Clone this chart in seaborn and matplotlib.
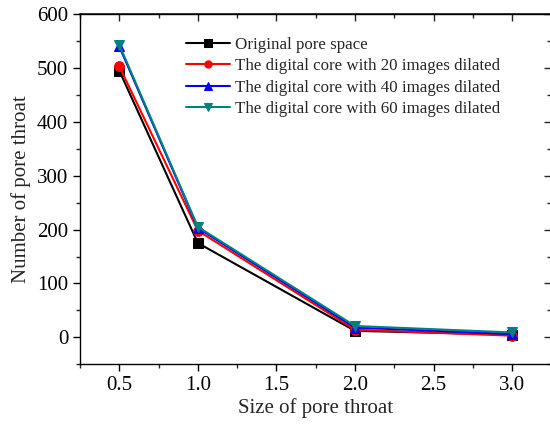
import pandas as pd
import seaborn as sns
import matplotlib.pyplot as plt
from matplotlib.ticker import MultipleLocator

# data
sizes = [0.5, 1.0, 2.0, 3.0]
original = [495, 175, 12, 5]
dilated_20 = [503, 198, 14, 3]
dilated_40 = [540, 203, 18, 6]
dilated_60 = [543, 205, 21, 9]

labels = [
    "Original pore space",
    "The digital core with 20 images dilated",
    "The digital core with 40 images dilated",
    "The digital core with 60 images dilated",
]
colors = ["black", "red", "blue", "#008080"]
markers = ["s", "o", "^", "v"]

sns.set_theme(style="ticks")
plt.rcParams["font.family"] = ["Liberation Serif", "DejaVu Serif"]

df = pd.DataFrame({
    "size": sizes * 4,
    "count": original + dilated_20 + dilated_40 + dilated_60,
    "series": [l for l in labels for _ in sizes],
})

fig = plt.figure(figsize=(5.5, 4.28), dpi=100)
ax = fig.add_axes([0.1455, 0.149, 0.857, 0.818])

for lab, col, mk in zip(labels, colors, markers):
    sub = df[df["series"] == lab]
    sns.lineplot(
        data=sub, x="size", y="count", ax=ax,
        color=col, marker=mk, markersize=7, linewidth=1.5,
        markeredgecolor=col, label=lab,
    )

ax.set_xlim(0.25, 3.25)
ax.set_ylim(-50, 600)
ax.set_xticks([0.5, 1.0, 1.5, 2.0, 2.5, 3.0])
ax.xaxis.set_minor_locator(MultipleLocator(0.25))
ax.yaxis.set_major_locator(MultipleLocator(100))
ax.yaxis.set_minor_locator(MultipleLocator(50))
ax.tick_params(which="major", direction="out", length=5, width=1, labelsize=15, colors="black")
ax.tick_params(which="minor", direction="out", length=3, width=1)

for s in ax.spines.values():
    s.set_visible(True)
    s.set_linewidth(1)
    s.set_color("black")

top = ax.secondary_xaxis("top")
top.set_xticks([0.5, 1.0, 1.5, 2.0, 2.5, 3.0])
top.xaxis.set_minor_locator(MultipleLocator(0.25))
top.tick_params(which="major", direction="in", length=5, width=1, labeltop=False)
top.tick_params(which="minor", direction="in", length=3, width=1)

right = ax.secondary_yaxis("right")
right.yaxis.set_major_locator(MultipleLocator(100))
right.yaxis.set_minor_locator(MultipleLocator(50))
right.tick_params(which="major", direction="in", length=5, width=1, labelright=False)
right.tick_params(which="minor", direction="in", length=3, width=1)

ax.set_xlabel("Size of pore throat", fontsize=15, labelpad=2)
ax.set_ylabel("Number of pore throat", fontsize=15, labelpad=4)

ax.legend(
    loc="upper left", bbox_to_anchor=(0.21, 0.955), frameon=False,
    fontsize=12.2, handlelength=2.6, labelspacing=0.32, borderaxespad=0,
    handletextpad=0.3, markerscale=0.75,
)

fig.savefig("out.png", dpi=100)
